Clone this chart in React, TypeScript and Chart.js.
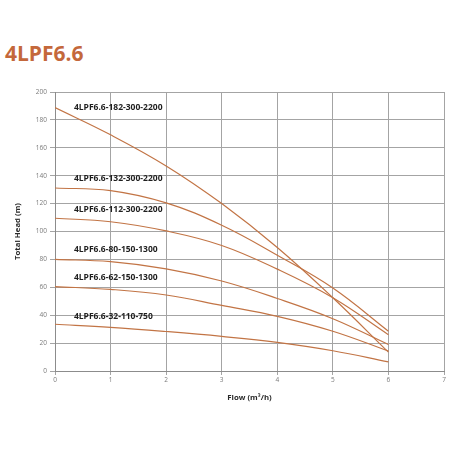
import {useEffect, useRef} from 'react'
import {Chart, registerables} from 'chart.js'
import type {ChartOptions, Plugin} from 'chart.js'

Chart.register(...registerables)

const flow = [0, 1, 2, 3, 4, 5, 6]
const head182 = [188.8, 169.3, 147, 120, 88.5, 52.5, 13.5]
const head132 = [131.2, 129.3, 120.5, 104.5, 83, 59.5, 28.5]
const head112 = [109.5, 107, 100.4, 90, 73, 52.5, 26]
const head80 = [80, 78.4, 73.2, 64.5, 52, 37.5, 19]
const head62 = [60.5, 58.5, 54.5, 47, 39.2, 28.5, 14.3]
const head32 = [33.5, 31.3, 28.3, 24.8, 20.5, 14.5, 6.5]

const models = [
    '4LPF6.6-182-300-2200',
    '4LPF6.6-132-300-2200',
    '4LPF6.6-112-300-2200',
    '4LPF6.6-80-150-1300',
    '4LPF6.6-62-150-1300',
    '4LPF6.6-32-110-750',
]
// where each model name sits, in chart units (flow, head)
const labelFlow = 0.34
const labelHeads = [189, 138, 115.5, 87, 67, 39]

const curves = [head182, head132, head112, head80, head62, head32]

const lineColor = '#c27445'
const gridColor = '#a4a4a4'

const curveLabels: Plugin<'line'> = {
    id: 'curveLabels',
    afterDatasetsDraw(chart) {
        const {ctx, scales} = chart
        ctx.save()
        ctx.font = 'bold 8.5px "Open Sans", sans-serif'
        ctx.fillStyle = '#1e1e1e'
        ctx.textAlign = 'left'
        ctx.textBaseline = 'middle'
        models.forEach((name, i) => {
            ctx.fillText(name, scales.x.getPixelForValue(labelFlow), scales.y.getPixelForValue(labelHeads[i]))
        })
        ctx.restore()
    },
}

export default function App() {
    const canvasRef = useRef<HTMLCanvasElement>(null)
    const chartRef = useRef<Chart<'line'> | null>(null)

    useEffect(() => {
        if (!canvasRef.current) return
        chartRef.current?.destroy()

        const options: ChartOptions<'line'> = {
            animation: false,
            responsive: false,
            devicePixelRatio: 1,
            layout: {padding: {left: 0, top: 92, right: 8, bottom: 0}},
            plugins: {
                legend: {display: false},
                tooltip: {enabled: false},
            },
            elements: {
                point: {radius: 0},
                line: {borderWidth: 1.2, borderColor: lineColor, tension: 0.4},
            },
            scales: {
                x: {
                    type: 'linear',
                    min: 0,
                    max: 7,
                    afterFit: (scale) => {
                        scale.height = 81
                    },
                    grid: {color: gridColor, tickLength: 4, lineWidth: 1},
                    border: {color: '#8c8c8c'},
                    ticks: {stepSize: 1, color: '#7a7a7a', font: {size: 6.5, family: 'Open Sans'}, padding: 1},
                    title: {
                        display: true,
                        text: 'Flow (m³/h)',
                        color: '#2a2a2a',
                        font: {size: 7.8, weight: 'bold', family: 'Open Sans'},
                        padding: {bottom: 50},
                    },
                },
                y: {
                    min: 0,
                    max: 200,
                    afterFit: (scale) => {
                        scale.width = 55
                    },
                    grid: {color: gridColor, tickLength: 5, lineWidth: 1},
                    border: {color: '#8c8c8c'},
                    ticks: {stepSize: 20, color: '#7a7a7a', font: {size: 6.5, family: 'Open Sans'}, padding: 3},
                    title: {
                        display: true,
                        text: 'Total Head (m)',
                        color: '#2a2a2a',
                        font: {size: 7.8, weight: 'bold', family: 'Open Sans'},
                        padding: {top: 13},
                    },
                },
            },
        }

        chartRef.current = new Chart(canvasRef.current, {
            type: 'line',
            data: {
                datasets: curves.map((curve, i) => ({
                    label: models[i],
                    data: flow.map((f, j) => ({x: f, y: curve[j]})),
                    borderColor: lineColor,
                    fill: false,
                })),
            },
            options,
            plugins: [curveLabels],
        })

        return () => {
            chartRef.current?.destroy()
            chartRef.current = null
        }
    }, [])

    return (
        <div style={{position: 'fixed', left: 0, top: 0, width: 452, height: 452, background: '#fff'}}>
            <div
                style={{
                    position: 'absolute',
                    left: 5,
                    top: 38,
                    fontFamily: '"Open Sans", sans-serif',
                    fontWeight: 700,
                    fontSize: 21,
                    color: '#c4683b',
                    lineHeight: '30px',
                }}
            >
                4LPF6.6
            </div>
            <canvas ref={canvasRef} width={452} height={452} style={{position: 'absolute', left: 0, top: 0}}/>
        </div>
    )
}
